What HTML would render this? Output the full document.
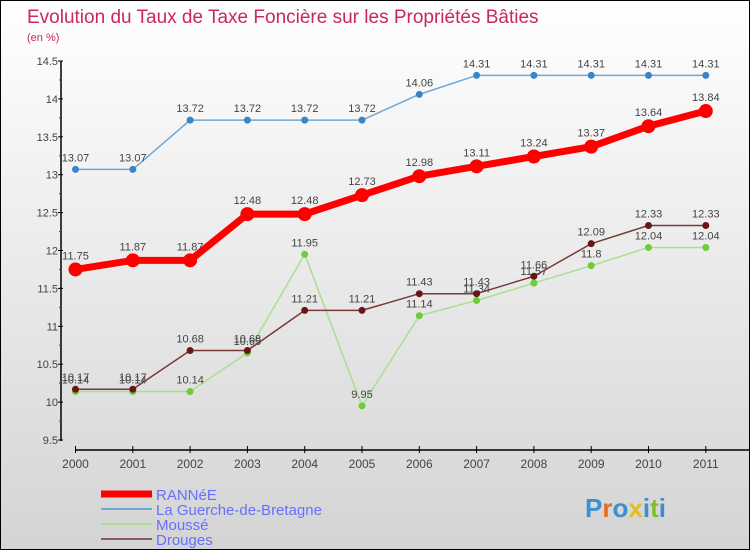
<!DOCTYPE html>
<html><head><meta charset="utf-8"><style>
body{margin:0}
#c{width:748px;height:548px;border:1px solid #000;background:linear-gradient(#fff,#d4d4d4);position:relative;font-family:"Liberation Sans",sans-serif;overflow:hidden}
</style></head><body>
<div id="c">
<svg id="s" width="748" height="548"></svg>
</div>
<script>
const years=["2000","2001","2002","2003","2004","2005","2006","2007","2008","2009","2010","2011"];
const yTicks=[9.5,10,10.5,11,11.5,12,12.5,13,13.5,14,14.5];
const ranne=[11.75,11.87,11.87,12.48,12.48,12.73,12.98,13.11,13.24,13.37,13.64,13.84];
const guerche=[13.07,13.07,13.72,13.72,13.72,13.72,14.06,14.31,14.31,14.31,14.31,14.31];
const mousse=[10.14,10.14,10.14,10.65,11.95,9.95,11.14,11.34,11.57,11.8,12.04,12.04];
const drouges=[10.17,10.17,10.68,10.68,11.21,11.21,11.43,11.43,11.66,12.09,12.33,12.33];
const NS="http://www.w3.org/2000/svg";
const s=document.getElementById('s');
function X(i){return 74.5+i*57.3;}
function Y(v){return 439-(v-9.5)*75.8;}
function el(t,a,p){const e=document.createElementNS(NS,t);for(const k in a)e.setAttribute(k,a[k]);(p||s).appendChild(e);return e;}
let t=el('text',{x:26,y:22,fill:'#c8285a','font-size':19});t.textContent='Evolution du Taux de Taxe Foncière sur les Propriétés Bâties';


t=el('text',{x:26,y:40,fill:'#c8285a','font-size':11});t.textContent='(en %)';


let a=el('line',{x1:60,y1:60,x2:60,y2:440,stroke:'#000','stroke-width':1.5});


a=el('line',{x1:74,y1:449,x2:748,y2:449,stroke:'#000','stroke-width':1.5});


yTicks.forEach((v,i)=>{
  el('line',{x1:57,y1:Y(v),x2:62,y2:Y(v),stroke:'#000'});
  if(i<yTicks.length-1)el('line',{x1:58,y1:Y(v+0.25),x2:61,y2:Y(v+0.25),stroke:'#d00'});
  const l=el('text',{x:57,y:Y(v)+4,'text-anchor':'end','font-size':11,fill:'#444'});l.textContent=String(v);
  
  
});
years.forEach((y,i)=>{
  el('line',{x1:X(i),y1:445,x2:X(i),y2:452,stroke:'#000'});
  const l=el('text',{x:X(i),y:467,'text-anchor':'middle','font-size':12,fill:'#444'});l.textContent=y;
  
  
});
function series(vals,color,w,r,dot,name){
  const g=el('g',{});
  
  
  el('polyline',{points:vals.map((v,i)=>X(i)+','+Y(v)).join(' '),fill:'none',stroke:color,'stroke-width':w,'stroke-linejoin':'round'},g);
  vals.forEach((v,i)=>{
    const c=el('circle',{cx:X(i),cy:Y(v),r:r,fill:dot},g);
    
    
    const l=el('text',{x:X(i),y:Y(v)-8-(r>4?2:0),'text-anchor':'middle','font-size':11,fill:'#444'},g);l.textContent=String(v);
    
    
  });
}
series(guerche,'#6fa8d8',1.5,3.5,'#3a85c8','guerche');
series(mousse,'#a8e090',1.5,3.5,'#6ccc3a','mousse');
series(drouges,'#7a3a3a',1.5,3.5,'#6a1515','drouges');
series(ranne,'#f00',7,7,'#f00','ranne');
const leg=[['RANNéE','#f00',7],['La Guerche-de-Bretagne','#6fa8d8',2],['Moussé','#a8e090',2],['Drouges','#8a5a5a',2]];
leg.forEach((d,i)=>{
  const y=493+i*15;
  const g=el('g',{});
  
  
  el('line',{x1:100,y1:y,x2:151,y2:y,stroke:d[1],'stroke-width':d[2]},g);
  const l=el('text',{x:155,y:y+6,'font-size':15,fill:'#6670ff'},g);l.textContent=d[0];
});
const p=el('text',{x:584,y:516,'font-size':26,'font-weight':'bold'});


const cols=['#3a90d0','#e07020','#3a90d0','#e0c020','#3a90d0','#80c030','#3a90d0'];
'Proxiti'.split('').forEach((ch,i)=>{const ts=el('tspan',{fill:cols[i]},p);ts.textContent=ch;});
</script>
</body></html>
